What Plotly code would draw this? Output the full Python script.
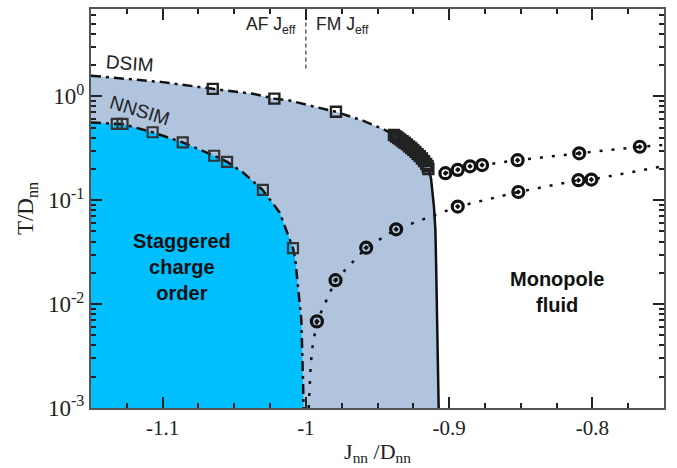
import plotly.graph_objects as go

# ---- data ----
# DSIM boundary (dash-dot curve), x = J_nn/D_nn, y = T/D_nn
dsim_x = [-1.15, -1.10, -1.065, -1.0369, -1.022, -1.0113, -0.9927, -0.979, -0.9602, -0.9463,
          -0.9395, -0.9312, -0.9242, -0.9186, -0.9151, -0.9138]
dsim_y = [1.58, 1.37, 1.18, 1.057, 0.95, 0.911, 0.787, 0.71, 0.583, 0.485,
          0.434, 0.363, 0.297, 0.249, 0.213, 0.190]
# DSIM squares
dsim_sq_x = [-1.065, -1.022, -0.979, -0.9385, -0.937, -0.9355, -0.934, -0.9325, -0.931,
             -0.9295, -0.928, -0.9265, -0.925, -0.9235, -0.922, -0.9205, -0.919, -0.9175,
             -0.916, -0.915, -0.9145]
dsim_sq_y = [1.18, 0.95, 0.71, 0.425, 0.41, 0.397, 0.383, 0.37, 0.357,
             0.345, 0.33, 0.318, 0.305, 0.292, 0.278, 0.266, 0.252, 0.238,
             0.224, 0.212, 0.20]
# solid vertical boundary
solid_x = [-0.9138, -0.9126, -0.9106, -0.9096, -0.9091, -0.9082, -0.9073]
solid_y = [0.190, 0.16, 0.087, 0.0525, 0.0252, 0.00568, 0.001]
# NNSIM boundary
nnsim_x = [-1.15, -1.132, -1.128, -1.107, -1.086, -1.064, -1.055, -1.0439, -1.0303, -1.0183,
           -1.009, -1.0074, -1.0044, -1.0032, -1.002, -1.0016]
nnsim_y = [0.561, 0.542, 0.54, 0.451, 0.36, 0.268, 0.234, 0.185, 0.126, 0.076,
           0.0346, 0.0269, 0.011, 0.0071, 0.00187, 0.001]
# NNSIM squares
nnsim_sq_x = [-1.132, -1.128, -1.107, -1.086, -1.064, -1.055, -1.030, -1.009]
nnsim_sq_y = [0.542, 0.542, 0.451, 0.360, 0.268, 0.234, 0.126, 0.0346]
# circles, upper branch
circ_up_x = [-0.9026, -0.894, -0.8854, -0.877, -0.8522, -0.8092, -0.7669]
circ_up_y = [0.182, 0.196, 0.212, 0.218, 0.243, 0.283, 0.327]
dot_up_x = [-0.9026, -0.894, -0.8854, -0.877, -0.8522, -0.8092, -0.7669, -0.75]
dot_up_y = [0.182, 0.196, 0.212, 0.218, 0.243, 0.283, 0.327, 0.34]
# circles, lower branch
circ_lo_x = [-0.9923, -0.9793, -0.9579, -0.937, -0.894, -0.8517, -0.8097, -0.8007]
circ_lo_y = [0.00682, 0.0170, 0.0349, 0.0525, 0.0869, 0.120, 0.156, 0.158]
dot_lo_x = [-0.998, -0.9967, -0.9955, -0.9923, -0.9793, -0.9579, -0.937, -0.894,
            -0.8517, -0.8097, -0.8007, -0.75]
dot_lo_y = [0.001, 0.0025, 0.00377, 0.00682, 0.0170, 0.0349, 0.0525, 0.0869,
            0.120, 0.156, 0.158, 0.213]
# AF/FM separator
sep_x = [-1.0, -1.0]
sep_y = [1.85, 7.0]

x_ticks = [-1.1, -1.0, -0.9, -0.8]
x_ticktext = ["-1.1", "-1", "-0.9", "-0.8"]
x_minor = [-1.125, -1.075, -1.05, -1.025, -0.975, -0.95, -0.925, -0.875, -0.85, -0.825,
           -0.775]
y_ticks = [1e-3, 1e-2, 1e-1, 1e0]
y_ticktext = ["10<sup>-3</sup>", "10<sup>-2</sup>", "10<sup>-1</sup>", "10<sup>0</sup>"]
y_minor = [m * 10 ** e for e in (-3, -2, -1, 0) for m in range(2, 10)]

SERIF = "Liberation Serif"
SANS = "Liberation Sans"

fig = go.Figure()

# light steel blue region (under DSIM)
fig.add_trace(go.Scatter(
    x=dsim_x + solid_x + [-1.15], y=dsim_y + solid_y + [1e-3],
    fill="toself", fillcolor="#B0C4DE", line=dict(width=0), mode="lines",
    hoverinfo="skip"))
# cyan region (under NNSIM)
fig.add_trace(go.Scatter(
    x=nnsim_x + [-1.15], y=nnsim_y + [1e-3],
    fill="toself", fillcolor="#00BFFF", line=dict(width=0), mode="lines",
    hoverinfo="skip"))

# boundary lines
fig.add_trace(go.Scatter(x=dsim_x, y=dsim_y, mode="lines",
                         line=dict(color="#111", width=2.5, dash="10px,5px,3px,5px")))
fig.add_trace(go.Scatter(x=solid_x, y=solid_y, mode="lines",
                         line=dict(color="#111", width=2.5)))
fig.add_trace(go.Scatter(x=nnsim_x, y=nnsim_y, mode="lines",
                         line=dict(color="#111", width=2.5, dash="10px,5px,3px,5px")))
# dotted lines
fig.add_trace(go.Scatter(x=dot_up_x, y=dot_up_y, mode="lines",
                         line=dict(color="#111", width=2.5, dash="3px,9px")))
fig.add_trace(go.Scatter(x=dot_lo_x, y=dot_lo_y, mode="lines",
                         line=dict(color="#111", width=2.5, dash="3px,9px")))
# separator
fig.add_trace(go.Scatter(x=sep_x, y=sep_y, mode="lines",
                         line=dict(color="#111", width=1, dash="4px,3px")))

# markers
fig.add_trace(go.Scatter(x=dsim_sq_x, y=dsim_sq_y, mode="markers",
                         marker=dict(symbol="square-open", size=10, color="#222",
                                     line=dict(width=2.4, color="#222"))))
fig.add_trace(go.Scatter(x=nnsim_sq_x, y=nnsim_sq_y, mode="markers",
                         marker=dict(symbol="square-open", size=10, color="#333",
                                     line=dict(width=2.2, color="#333"))))
fig.add_trace(go.Scatter(x=circ_up_x, y=circ_up_y, mode="markers",
                         marker=dict(symbol="circle-open-dot", size=11, color="#111",
                                     line=dict(width=3.2, color="#111"))))
fig.add_trace(go.Scatter(x=circ_lo_x, y=circ_lo_y, mode="markers",
                         marker=dict(symbol="circle-open-dot", size=11, color="#111",
                                     line=dict(width=3.2, color="#111"))))

# invisible trace to carry the minor-tick overlay axes
fig.add_trace(go.Scatter(x=[-1.15], y=[1e-3], xaxis="x2", yaxis="y2", mode="markers",
                         marker=dict(size=1, opacity=0), hoverinfo="skip"))

fig.update_layout(
    xaxis=dict(
        range=[-1.15, -0.75], tickmode="array", tickvals=x_ticks, ticktext=x_ticktext,
        ticks="inside", ticklen=11, tickwidth=2, tickcolor="#222",
        showline=True, linecolor="#555", linewidth=2, mirror="allticks",
        showgrid=False, zeroline=False, automargin=False,
        tickfont=dict(family=SERIF, size=21, color="#222"),
        title=dict(text="J<sub>nn</sub> /D<sub>nn</sub>",
                   font=dict(family=SERIF, size=22, color="#222"), standoff=4)),
    yaxis=dict(
        type="log", range=[-3, 0.8406], tickmode="array", tickvals=y_ticks,
        ticktext=y_ticktext,
        ticks="inside", ticklen=11, tickwidth=2, tickcolor="#222",
        showline=True, linecolor="#555", linewidth=2, mirror="allticks",
        showgrid=False, zeroline=False, automargin=False,
        tickfont=dict(family=SERIF, size=23, color="#222"),
        title=dict(text="T/D<sub>nn</sub>",
                   font=dict(family=SERIF, size=23, color="#222"), standoff=8)),
    xaxis2=dict(
        overlaying="x", anchor="y2", range=[-1.15, -0.75], tickmode="array",
        tickvals=x_minor, ticks="inside", ticklen=5, tickwidth=1.5, tickcolor="#222",
        showticklabels=False, showline=False, mirror="allticks", showgrid=False,
        zeroline=False, automargin=False),
    yaxis2=dict(
        overlaying="y", anchor="x2", type="log", range=[-3, 0.8406], tickmode="array",
        tickvals=y_minor, ticks="inside", ticklen=5, tickwidth=1.5, tickcolor="#222",
        showticklabels=False, showline=False, mirror="allticks", showgrid=False,
        zeroline=False, automargin=False),
)

ann_font = dict(family=SANS, size=17.5, color="#222")
fig.add_annotation(x=-1.0058, y=0.68, text="AF J<sub>eff</sub>", showarrow=False,
                   xanchor="right", yanchor="middle", font=ann_font)
fig.add_annotation(x=-0.994, y=0.68, text="FM J<sub>eff</sub>", showarrow=False,
                   xanchor="left", yanchor="middle", font=ann_font)
fig.add_annotation(x=-1.1228, y=0.314, text="DSIM", showarrow=False, textangle=4,
                   font=dict(family=SANS, size=19, color="#222"))
fig.add_annotation(x=-1.1159, y=-0.14, text="NNSIM", showarrow=False, textangle=17,
                   font=dict(family=SANS, size=19, color="#222"))
fig.add_annotation(x=-1.0866, y=-1.647, text="<b>Staggered<br>charge<br>order</b>",
                   showarrow=False, align="center",
                   font=dict(family=SANS, size=20, color="#111"))
fig.add_annotation(x=-0.8246, y=-1.879, text="<b>Monopole<br>fluid</b>",
                   showarrow=False, align="center",
                   font=dict(family=SANS, size=20, color="#111"))

fig.update_layout(
    width=677, height=468, showlegend=False,
    margin=dict(l=91, r=13, t=9, b=60, autoexpand=False),
    plot_bgcolor="white", paper_bgcolor="white")

fig.write_html("out.html", config={"displayModeBar": False},
               post_script="document.body.style.margin='0';"
                           "document.body.style.padding='0';")
